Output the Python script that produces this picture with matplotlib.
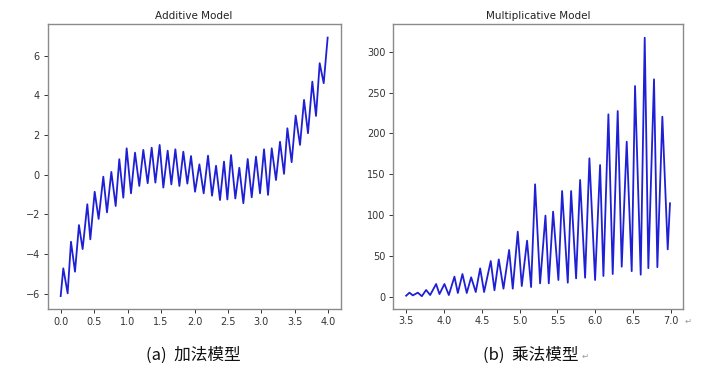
import matplotlib
matplotlib.use("Agg")
import matplotlib.pyplot as plt

plt.rcParams['font.family'] = ['DejaVu Sans']

# ---- Additive model: alternating extremes ----
add_x = [0.000, 0.039, 0.104, 0.154, 0.214, 0.273, 0.328, 0.398, 0.443, 0.508,
         0.567, 0.637, 0.692, 0.757, 0.822, 0.876, 0.936, 0.986, 1.051, 1.111,
         1.175, 1.235, 1.300, 1.360, 1.415, 1.479, 1.534, 1.599, 1.654, 1.714,
         1.774, 1.833, 1.893, 1.948, 2.008, 2.073, 2.137, 2.202, 2.262, 2.322,
         2.381, 2.441, 2.491, 2.546, 2.610, 2.670, 2.730, 2.795, 2.855, 2.919,
         2.979, 3.039, 3.099, 3.154, 3.218, 3.278, 3.338, 3.388, 3.452, 3.512,
         3.577, 3.637, 3.696, 3.761, 3.816, 3.871, 3.931, 3.990]
add_y = [-6.12, -4.72, -5.98, -3.38, -4.89, -2.54, -3.75, -1.49, -3.26, -0.86,
         -2.23, -0.10, -1.90, 0.14, -1.58, 0.78, -1.16, 1.33, -0.94, 1.11,
         -0.57, 1.25, -0.43, 1.36, -0.40, 1.50, -0.65, 1.21, -0.49, 1.28,
         -0.57, 1.16, -0.45, 0.94, -0.86, 0.52, -0.94, 0.96, -1.06, 0.45,
         -1.28, 0.66, -1.25, 0.99, -1.20, 0.35, -1.44, 0.79, -1.14, 0.91,
         -0.94, 1.28, -1.02, 1.33, -0.27, 1.66, 0.04, 2.34, 0.63, 2.98,
         1.50, 3.77, 2.09, 4.69, 2.96, 5.62, 4.61, 6.91]

# ---- Multiplicative model: alternating extremes ----
mul_x = [3.500, 3.544, 3.588, 3.654, 3.707, 3.764, 3.817, 3.896, 3.940, 4.006,
         4.064, 4.138, 4.183, 4.244, 4.301, 4.359, 4.420, 4.478, 4.530, 4.618,
         4.667, 4.724, 4.786, 4.861, 4.909, 4.975, 5.028, 5.098, 5.151, 5.204,
         5.270, 5.341, 5.385, 5.442, 5.512, 5.561, 5.636, 5.680, 5.746, 5.799,
         5.865, 5.922, 5.997, 6.063, 6.107, 6.173, 6.230, 6.296, 6.349, 6.415,
         6.481, 6.525, 6.600, 6.653, 6.701, 6.776, 6.820, 6.886, 6.957, 6.987]
mul_y = [1.6, 5.3, 2.0, 5.3, 1.0, 8.6, 2.4, 15.9, 3.6, 15.9,
         2.4, 24.9, 4.9, 28.1, 4.9, 24.1, 6.1, 35.0, 6.1, 44.0,
         8.2, 46.0, 10.2, 57.5, 10.2, 79.9, 13.4, 68.9, 12.2, 137.8,
         16.7, 99.5, 16.7, 104.4, 20.8, 129.6, 17.5, 129.6, 22.8, 143.1,
         23.6, 169.6, 20.8, 161.4, 25.7, 223.4, 28.1, 227.4, 37.1, 189.9,
         31.6, 258.0, 27.3, 317.1, 35.3, 266.2, 36.5, 220.5, 58.3, 114.6]

add_xticks = [0.0, 0.5, 1.0, 1.5, 2.0, 2.5, 3.0, 3.5, 4.0]
add_yticks = [-6, -4, -2, 0, 2, 4, 6]
mul_xticks = [3.5, 4.0, 4.5, 5.0, 5.5, 6.0, 6.5, 7.0]
mul_yticks = [0, 50, 100, 150, 200, 250, 300]
titles = ["Additive Model", "Multiplicative Model"]
captions = ["(a)  加法模型", "(b)  乘法模型"]

W, H = 707, 375
fig = plt.figure(figsize=(W / 100, H / 100), dpi=100)
fig.patch.set_facecolor('white')

ax1 = fig.add_axes([47.5 / W, 1 - 309 / H, 293.2 / W, 284.7 / H])
ax2 = fig.add_axes([393.3 / W, 1 - 308.7 / H, 289.4 / W, 284.4 / H])

line_color = '#1f1fd6'
for ax, x, y, title, xt, yt, fmt in [
        (ax1, add_x, add_y, titles[0], add_xticks, add_yticks, '{:.1f}'),
        (ax2, mul_x, mul_y, titles[1], mul_xticks, mul_yticks, '{:.1f}')]:
    ax.plot(x, y, color=line_color, linewidth=1.3)
    ax.set_title(title, fontsize=7.5, pad=4, color='#222222')
    ax.set_xticks(xt)
    ax.set_xticklabels([fmt.format(v) for v in xt])
    ax.set_yticks(yt)
    ax.tick_params(labelsize=7, length=3, width=0.7, pad=2.5,
                   colors='#333333')
    for s in ax.spines.values():
        s.set_color('#8a8a8a')
        s.set_linewidth(1.0)

ax1.set_xlim(-0.197, 4.185)
ax1.set_ylim(-6.77, 7.58)
ax2.set_xlim(3.33, 7.155)
ax2.set_ylim(-14.3, 333.5)

cjk = ['Noto Sans CJK SC', 'DejaVu Sans']
fig.text(193 / W, 1 - 355 / H, captions[0], fontsize=12, family=cjk,
         ha='center', va='center', color='#111111')
fig.text(483 / W, 1 - 355 / H, captions[1], fontsize=12, family=cjk,
         ha='left', va='center', color='#111111')
fig.text(582 / W, 1 - 356 / H, '↵', fontsize=6, family=['DejaVu Sans'],
         ha='left', va='center', color='#999999')
fig.text(685 / W, 1 - 321 / H, '↵', fontsize=6, family=['DejaVu Sans'],
         ha='left', va='center', color='#999999')

fig.savefig('out.png', dpi=100, facecolor='white')
